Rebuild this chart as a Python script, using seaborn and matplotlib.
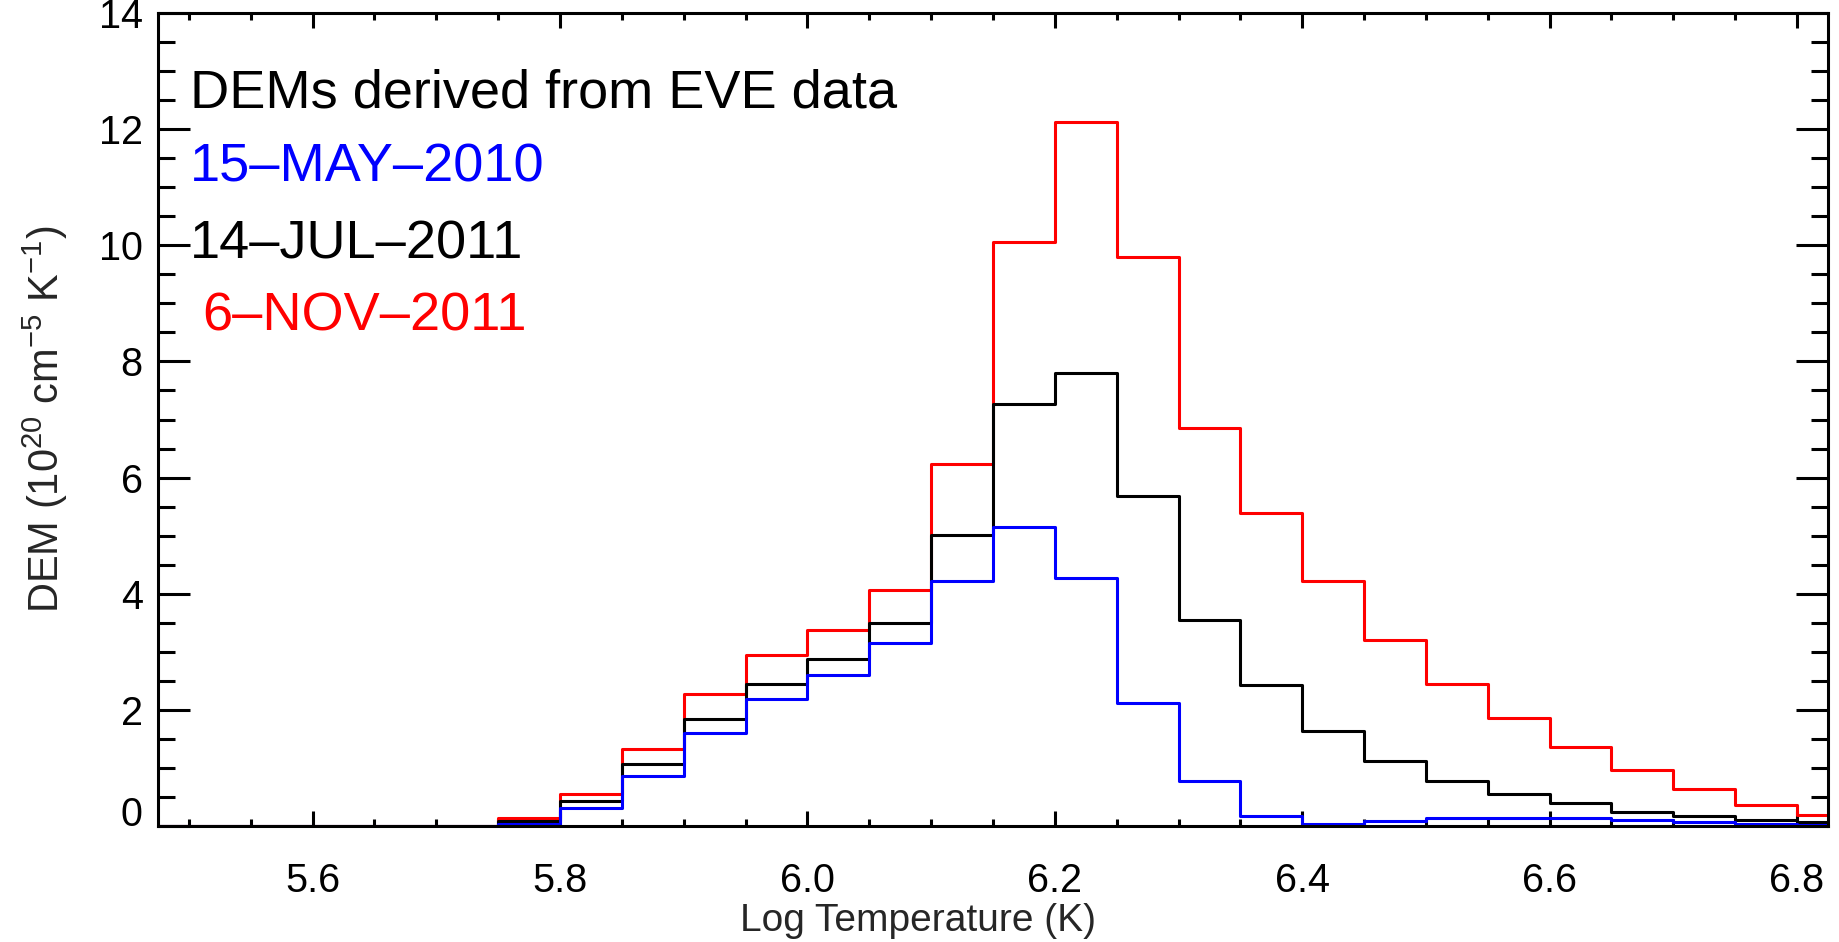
import pandas as pd
import seaborn as sns
import matplotlib.pyplot as plt
from matplotlib.ticker import MultipleLocator, FormatStrFormatter

# bin centres in log T (bins 0.05 wide, first and last only half inside the plot)
LOG_T = [5.475, 5.525, 5.575, 5.625, 5.675, 5.725, 5.775, 5.825, 5.875, 5.925,
         5.975, 6.025, 6.075, 6.125, 6.175, 6.225, 6.275, 6.325, 6.375, 6.425,
         6.475, 6.525, 6.575, 6.625, 6.675, 6.725, 6.775, 6.825]

# DEM in units of 1e20 cm^-5 K^-1
DEM_15MAY2010 = [0, 0, 0, 0, 0, 0, 0.04, 0.31, 0.87, 1.60,
                 2.19, 2.60, 3.16, 4.22, 5.15, 4.27, 2.12, 0.77, 0.18, 0.03,
                 0.09, 0.14, 0.14, 0.13, 0.10, 0.07, 0.03, 0.02]
DEM_14JUL2011 = [0, 0, 0, 0, 0, 0, 0.08, 0.43, 1.06, 1.84,
                 2.45, 2.87, 3.49, 5.02, 7.27, 7.80, 5.69, 3.55, 2.42, 1.64,
                 1.12, 0.77, 0.56, 0.40, 0.25, 0.17, 0.11, 0.07]
DEM_06NOV2011 = [0, 0, 0, 0, 0, 0, 0.13, 0.55, 1.33, 2.27,
                 2.94, 3.37, 4.07, 6.24, 10.06, 12.12, 9.79, 6.86, 5.39, 4.22,
                 3.21, 2.45, 1.86, 1.36, 0.97, 0.63, 0.36, 0.19]

DATES = ["15\u2013MAY\u20132010", "14\u2013JUL\u20132011", "6\u2013NOV\u20132011"]
COLORS = ["blue", "black", "red"]

LW = 2.2


def main():
    sns.set_style("ticks")
    plt.rcParams["font.family"] = ["Liberation Sans", "DejaVu Sans"]
    plt.rcParams["mathtext.fontset"] = "custom"
    plt.rcParams["mathtext.rm"] = "Liberation Sans"
    plt.rcParams["mathtext.default"] = "regular"
    plt.rcParams["axes.linewidth"] = LW

    df = pd.concat([
        pd.DataFrame({"logT": LOG_T, "dem": dem, "date": date})
        for dem, date in zip([DEM_15MAY2010, DEM_14JUL2011, DEM_06NOV2011], DATES)
    ])

    fig = plt.figure(figsize=(18.39, 9.42), dpi=100)
    ax = fig.add_axes([0.0859, 0.1231, 0.9081, 0.8631])

    # red first, blue last (blue ends up on top)
    sns.lineplot(data=df, x="logT", y="dem", hue="date",
                 hue_order=DATES[::-1], palette=dict(zip(DATES, COLORS)),
                 drawstyle="steps-mid", linewidth=LW, legend=False,
                 errorbar=None, ax=ax)

    ax.set_xlim(5.475, 6.825)
    ax.set_ylim(0, 14)
    ax.xaxis.set_major_locator(MultipleLocator(0.2))
    ax.xaxis.set_minor_locator(MultipleLocator(0.05))
    ax.xaxis.set_major_formatter(FormatStrFormatter("%.1f"))
    ax.yaxis.set_major_locator(MultipleLocator(2))
    ax.yaxis.set_minor_locator(MultipleLocator(0.5))

    for s in ax.spines.values():
        s.set_visible(True)
        s.set_color("black")
        s.set_linewidth(LW)

    ax.tick_params(which="both", direction="in", top=True, right=True,
                   width=LW, colors="black", labelsize=28.5)
    ax.tick_params(axis="x", which="major", length=11, pad=26)
    ax.tick_params(axis="x", which="minor", length=5)
    ax.tick_params(axis="y", which="major", length=23, pad=11)
    ax.tick_params(axis="y", which="minor", length=12)

    ax.set_xlabel("Log Temperature (K)", fontsize=28)
    ax.set_ylabel(r"DEM (10$^{20}$ cm$^{-5}$ K$^{-1}$)", fontsize=30)
    ax.xaxis.label.set_va("baseline")
    ax.xaxis.set_label_coords(0.455, -0.129)
    ax.yaxis.label.set_va("baseline")
    ax.yaxis.set_label_coords(-0.0593, 0.5)

    # the zero label sits on top of the axis line, as in the IDL plot
    fig.canvas.draw()
    for lab in ax.get_yticklabels():
        if lab.get_text() == "0":
            lab.set_va("baseline")

    ax.text(5.501, 12.37, "DEMs derived from EVE data", fontsize=39, color="black")
    ax.text(5.501, 11.09, DATES[0], fontsize=39, color=COLORS[0])
    ax.text(5.501, 9.78, DATES[1], fontsize=39, color=COLORS[1])
    ax.text(5.5106, 8.53, DATES[2], fontsize=39, color=COLORS[2])

    fig.savefig("out.png", dpi=100)
    plt.close(fig)


if __name__ == "__main__":
    main()
